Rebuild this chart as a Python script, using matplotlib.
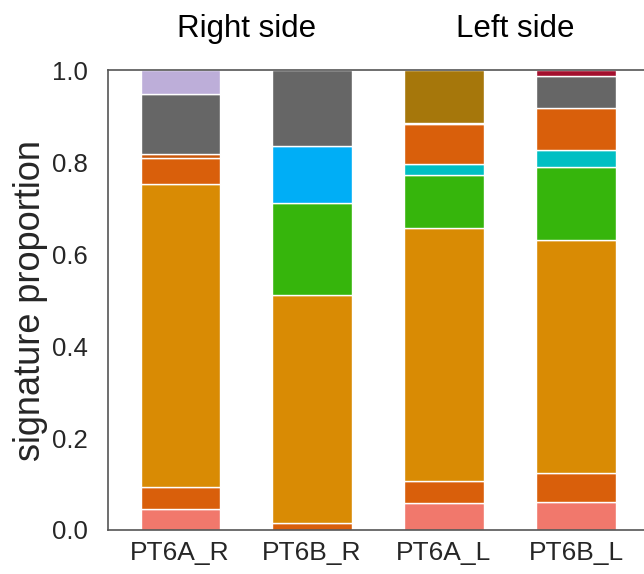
import matplotlib
matplotlib.use("Agg")
import matplotlib.pyplot as plt
import numpy as np

plt.rcParams['font.family'] = ['Liberation Sans', 'DejaVu Sans']

samples = ['PT6A_R', 'PT6B_R', 'PT6A_L', 'PT6B_L']
groups = ['Right side', 'Left side']

# signature proportions per sample, stacked bottom to top
sig_salmon   = [0.045, 0.000, 0.059, 0.060]
sig_rust     = [0.048, 0.015, 0.048, 0.064]
sig_orange   = [0.659, 0.495, 0.549, 0.506]
sig_green    = [0.000, 0.202, 0.117, 0.160]
sig_blue     = [0.000, 0.124, 0.000, 0.000]
sig_cyan     = [0.000, 0.000, 0.024, 0.036]
sig_vermil   = [0.058, 0.000, 0.085, 0.092]
sig_burnt    = [0.007, 0.000, 0.000, 0.000]
sig_peach    = [0.000, 0.000, 0.004, 0.000]
sig_gray     = [0.132, 0.164, 0.000, 0.070]
sig_lavender = [0.051, 0.000, 0.000, 0.000]
sig_ochre    = [0.000, 0.000, 0.114, 0.000]
sig_crimson  = [0.000, 0.000, 0.000, 0.012]

stack = [
    (sig_salmon, '#F1786C'),
    (sig_rust, '#D95F0B'),
    (sig_orange, '#D98B04'),
    (sig_green, '#36B50C'),
    (sig_blue, '#00AEF6'),
    (sig_cyan, '#00BFC3'),
    (sig_vermil, '#D95F0B'),
    (sig_burnt, '#C9570A'),
    (sig_peach, '#F3CFA3'),
    (sig_gray, '#666666'),
    (sig_lavender, '#BDAED9'),
    (sig_ochre, '#A6770B'),
    (sig_crimson, '#A3102E'),
]

fig = plt.figure(figsize=(6.44, 5.74), dpi=100)
ax = fig.add_axes([0.167, 0.0767, 0.84, 0.801])

x = np.arange(len(samples))
bottom = np.zeros(len(samples))
for vals, color in stack:
    vals = np.array(vals)
    keep = vals > 0
    ax.bar(x[keep], vals[keep], width=0.6, bottom=bottom[keep],
           color=color, edgecolor='white', linewidth=1)
    bottom += vals

ax.set_xlim(-0.55, 3.55)
ax.set_ylim(0, 1.0)
ax.set_yticks([0, 0.2, 0.4, 0.6, 0.8, 1.0])
ax.set_yticklabels(['0.0', '0.2', '0.4', '0.6', '0.8', '1.0'])
ax.set_xticks(x)
ax.set_xticklabels(samples)
ax.tick_params(axis='y', length=0, labelsize=18.5, colors='#262626', pad=14)
ax.tick_params(axis='x', length=0, labelsize=19, colors='#262626', pad=8)
ax.set_ylabel('signature proportion', fontsize=26, color='#262626', labelpad=3)

for side in ['top', 'bottom', 'left']:
    ax.spines[side].set_color('#555555')
    ax.spines[side].set_linewidth(1.2)
ax.spines['right'].set_visible(False)

for xpos, g in zip([0.5, 2.54], groups):
    ax.text(xpos, 1.09, g, transform=ax.get_xaxis_transform(),
            ha='center', va='center', fontsize=22.5, color='black')

fig.savefig('out.png', dpi=100)
